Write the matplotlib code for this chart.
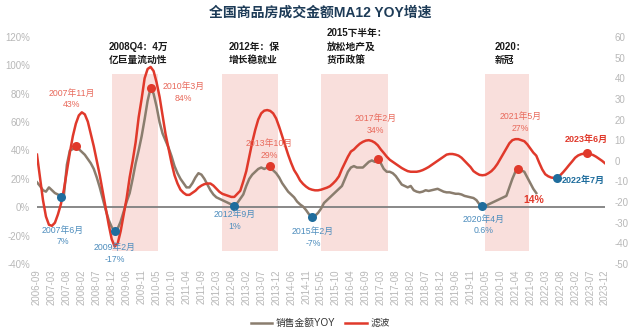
import matplotlib
matplotlib.use("Agg")
import matplotlib.pyplot as plt

plt.rcParams['font.family'] = ['Liberation Sans', 'Noto Sans CJK SC', 'DejaVu Sans']

# Category axis: monthly, January is reported together with February, so it is skipped
months = [f"{y}-{m:02d}" for y in range(2006, 2024) for m in range(2, 13)
          if (y, m) >= (2006, 9)]

# MA12 YoY growth of national commodity housing sales value (%), 2006-09 .. 2021-11
sales_yoy = [
    17.6, 15, 12, 11, 14, 12, 10, 9, 7, 8.5,
    30, 40, 41, 43, 41, 39, 37, 34, 31, 27,
    21, 14, 6, -2, -9, -14, -17, -15, -10, -3,
    4, 10, 20, 31, 40, 50, 62, 75, 84, 80,
    71, 60, 52, 47, 42, 36, 29, 24, 20, 17,
    14, 14, 17, 21, 24, 23, 20, 16, 12, 9,
    7, 6, 5, 4, 3, 2, 1, 3, 6, 9,
    15, 20, 23, 25, 27, 28, 27, 28, 29, 26,
    24, 21, 17, 14, 11, 9, 7, 4, 2, 0.5,
    -2, -5, -7, -6, -4, -1, 3, 5, 7, 9,
    11, 13, 15, 20, 25, 28, 29, 28, 28, 28,
    30, 32, 33, 32, 34, 31, 27, 25, 25, 24,
    22, 19, 16, 15, 14, 15, 12, 11, 10.5, 11,
    12, 11.5, 12, 12.5, 13, 12, 11, 10.5, 10.5, 10,
    9.5, 9.5, 9, 8, 7.5, 7, 6.5, 5, 2, 0.6,
    1, 2, 3, 4, 5, 6, 7, 8, 14, 20,
    25, 27, 26, 25, 21, 17, 13, 10,
]

# Filtered cycle component (right axis), 2006-09 .. 2023-12
filtered = [
    3, -8, -19, -27, -31, -31.5, -30, -26, -21, -14,
    -5, 4, 12, 18, 22, 23.5, 22.5, 19, 13, 7,
    0, -7, -15, -23, -31, -38, -41.5, -40, -34, -26,
    -18, -8, 0, 9, 21, 30, 40, 44.5, 45.5, 43.5,
    38, 31, 22, 13, 6, -1, -7, -11, -14, -15.5,
    -16.5, -16.5, -15.5, -14.5, -13, -12, -11.3, -11, -11, -12,
    -13.5, -15, -16, -16.5, -17, -17.5, -17.5, -16, -14.5, -10,
    -5, 2, 9, 15, 20, 23, 24.3, 24.6, 24.2, 23,
    20.5, 16.5, 12, 7.5, 3, -1, -4.5, -6.8, -9.5, -11.2,
    -12.5, -13.5, -14, -14.3, -14.3, -14, -13.5, -13, -12.3, -11,
    -9.5, -7.5, -4, -1, 2, 4.5, 5.5, 7, 8.3, 9.2,
    9.8, 10, 9.6, 8.8, 7.5, 5.5, 3.8, 2, 0.5, -0.5,
    -1.5, -2.5, -3.5, -4.3, -5, -5.3, -5.3, -5.3, -5, -4.5,
    -3.8, -3, -2, -1, 0, 1, 2, 3, 3.3, 3.3,
    3, 2.5, 1.5, 0, -1.5, -3, -5, -6, -6.8, -7,
    -6.8, -6, -5, -3.5, -1.5, 1, 3.5, 6, 8.5, 10,
    10.5, 10.5, 10, 9.5, 8, 6, 4, 2.5, -1, -4.2,
    -6.5, -7.5, -8.1, -8.3, -8.1, -7, -5.5, -3.8, -2, -0.3,
    1.5, 2.6, 3.2, 3.5, 3.6, 3.3, 2.8, 2, 1, 0, -1.2,
]

# Latest monthly reading quoted next to the end of the YoY series (%)
latest_reading = 14

# Policy periods (start month, end month, caption)
policy_periods = [
    ("2008-12", "2010-05", "2008Q4：4万\n亿巨量流动性"),
    ("2012-05", "2013-12", "2012年：保\n增长稳就业"),
    ("2015-05", "2017-05", "2015下半年：\n放松地产及\n货币政策"),
    ("2020-05", "2021-08", "2020：\n新冠"),
]
caption_months = ["2008-11", "2012-07", "2015-07", "2020-08"]

# Turning points of the YoY series
peak_months = ["2007-11", "2010-03", "2013-10", "2017-02", "2021-05"]
trough_months = ["2007-06", "2009-02", "2012-09", "2015-02", "2020-04"]
# Turning points of the filtered series
filtered_trough_month = "2022-07"
filtered_peak_month = "2023-06"

RED = "#e0392b"
RED_TXT = "#e8695b"
BLUE = "#1f6d9d"
BLUE_TXT = "#4d8dbd"
GREY_LINE = "#8a7d6e"
TICK_C = "#b8b8b8"

idx = {m: i for i, m in enumerate(months)}


def cn_month(m):
    y, mo = m.split("-")
    return f"{y}年{int(mo)}月"


fig = plt.figure(figsize=(6.41, 3.33), dpi=100)
ax = fig.add_axes([0.0577, 0.2072, 0.8862, 0.6817])
ax2 = ax.twinx()

x_all = list(range(len(months)))
ax.set_xlim(0, len(months) - 1)
ax.set_ylim(-40, 120)
ax2.set_ylim(-50, 60)

# shaded policy windows with captions above them
for (s, e, cap), cm in zip(policy_periods, caption_months):
    ax.fill_between([idx[s], idx[e] + 0.5], -31, 94, color="#f9dfdc", lw=0, zorder=0)
    ax.text(idx[cm], 100, cap, ha="left", va="bottom", fontsize=7, fontweight="bold",
            color="#1a1a1a", linespacing=1.45)

ax.axhline(0, color="#7f7f7f", lw=1.3, zorder=1)
grey_line, = ax.plot(x_all[:len(sales_yoy)], sales_yoy, color=GREY_LINE, lw=1.8, zorder=2)
red_line, = ax2.plot(x_all, filtered, color=RED, lw=1.8, zorder=3)

# label centres (category position, left-axis value) for the turning points
label_pos = {
    "2007-11": (11.7, 76.5), "2010-03": (49, 81), "2013-10": (77.7, 40.6),
    "2017-02": (113.3, 58.2), "2021-05": (161.8, 59.6),
    "2007-06": (8.7, -20.3), "2009-02": (26, -32.7), "2012-09": (66, -9.3),
    "2015-02": (92.3, -21.4), "2020-04": (149.3, -12.7),
}
for group, mc, tc in ((peak_months, RED, RED_TXT), (trough_months, BLUE, BLUE_TXT)):
    for m in group:
        k = idx[m]
        v = sales_yoy[k]
        ax2.plot([k], [v], "o", color=mc, ms=6.5, mec="none", zorder=5,
                 transform=ax.transData)
        lx, ly = label_pos[m]
        ax2.text(lx, ly, f"{cn_month(m)}\n{v:g}%", ha="center", va="center",
                 fontsize=6.3, color=tc, linespacing=1.35, zorder=6,
                 transform=ax.transData)

ax2.text(len(sales_yoy) - 1.8, 5.3, f"{latest_reading:g}%", ha="center", va="center",
         fontsize=7.5, fontweight="bold", color=RED, transform=ax.transData, zorder=6)

# markers on the filtered series
kt = idx[filtered_trough_month]
ax2.plot([kt], [filtered[kt]], "o", color=BLUE, ms=6.5, mec="none", zorder=5)
ax2.text(kt + 1.6, 18.9, cn_month(filtered_trough_month), ha="left", va="center",
         fontsize=6.5, fontweight="bold", color=BLUE, transform=ax.transData, zorder=6)
kp = idx[filtered_peak_month]
ax2.plot([kp], [filtered[kp]], "o", color=RED, ms=6.5, mec="none", zorder=5)
ax2.text(kp - 0.4, 48, cn_month(filtered_peak_month), ha="center", va="center",
         fontsize=6.5, fontweight="bold", color=RED, transform=ax.transData, zorder=6)

# axes styling
ax.set_xticks(x_all[::5])
ax.set_xticklabels(months[::5], rotation=90, fontsize=7, color=TICK_C)
ax.set_yticks(range(-40, 121, 20))
ax.set_yticklabels([f"{v}%" for v in range(-40, 121, 20)], fontsize=7, color=TICK_C)
ax2.set_yticks(range(-50, 61, 10))
ax2.set_yticklabels([str(v) for v in range(-50, 61, 10)], fontsize=7, color=TICK_C)
for a in (ax, ax2):
    for sp in a.spines.values():
        sp.set_visible(False)
    a.tick_params(length=0)
ax.tick_params(axis="x", pad=4)
ax.tick_params(axis="y", pad=5)
ax2.tick_params(axis="y", pad=7)

fig.text(0.5, 0.963, "全国商品房成交金额MA12 YOY增速", ha="center", va="center",
         fontsize=10, fontweight="bold", color="#1d3b57")

fig.legend([grey_line, red_line], ["销售金额YOY", "滤波"], loc="center",
           bbox_to_anchor=(0.5, 0.03), ncol=2, frameon=False, fontsize=7,
           handlelength=2.2, handletextpad=0.4, columnspacing=1.0, labelcolor="#333333")

fig.savefig("out.png", dpi=100)
